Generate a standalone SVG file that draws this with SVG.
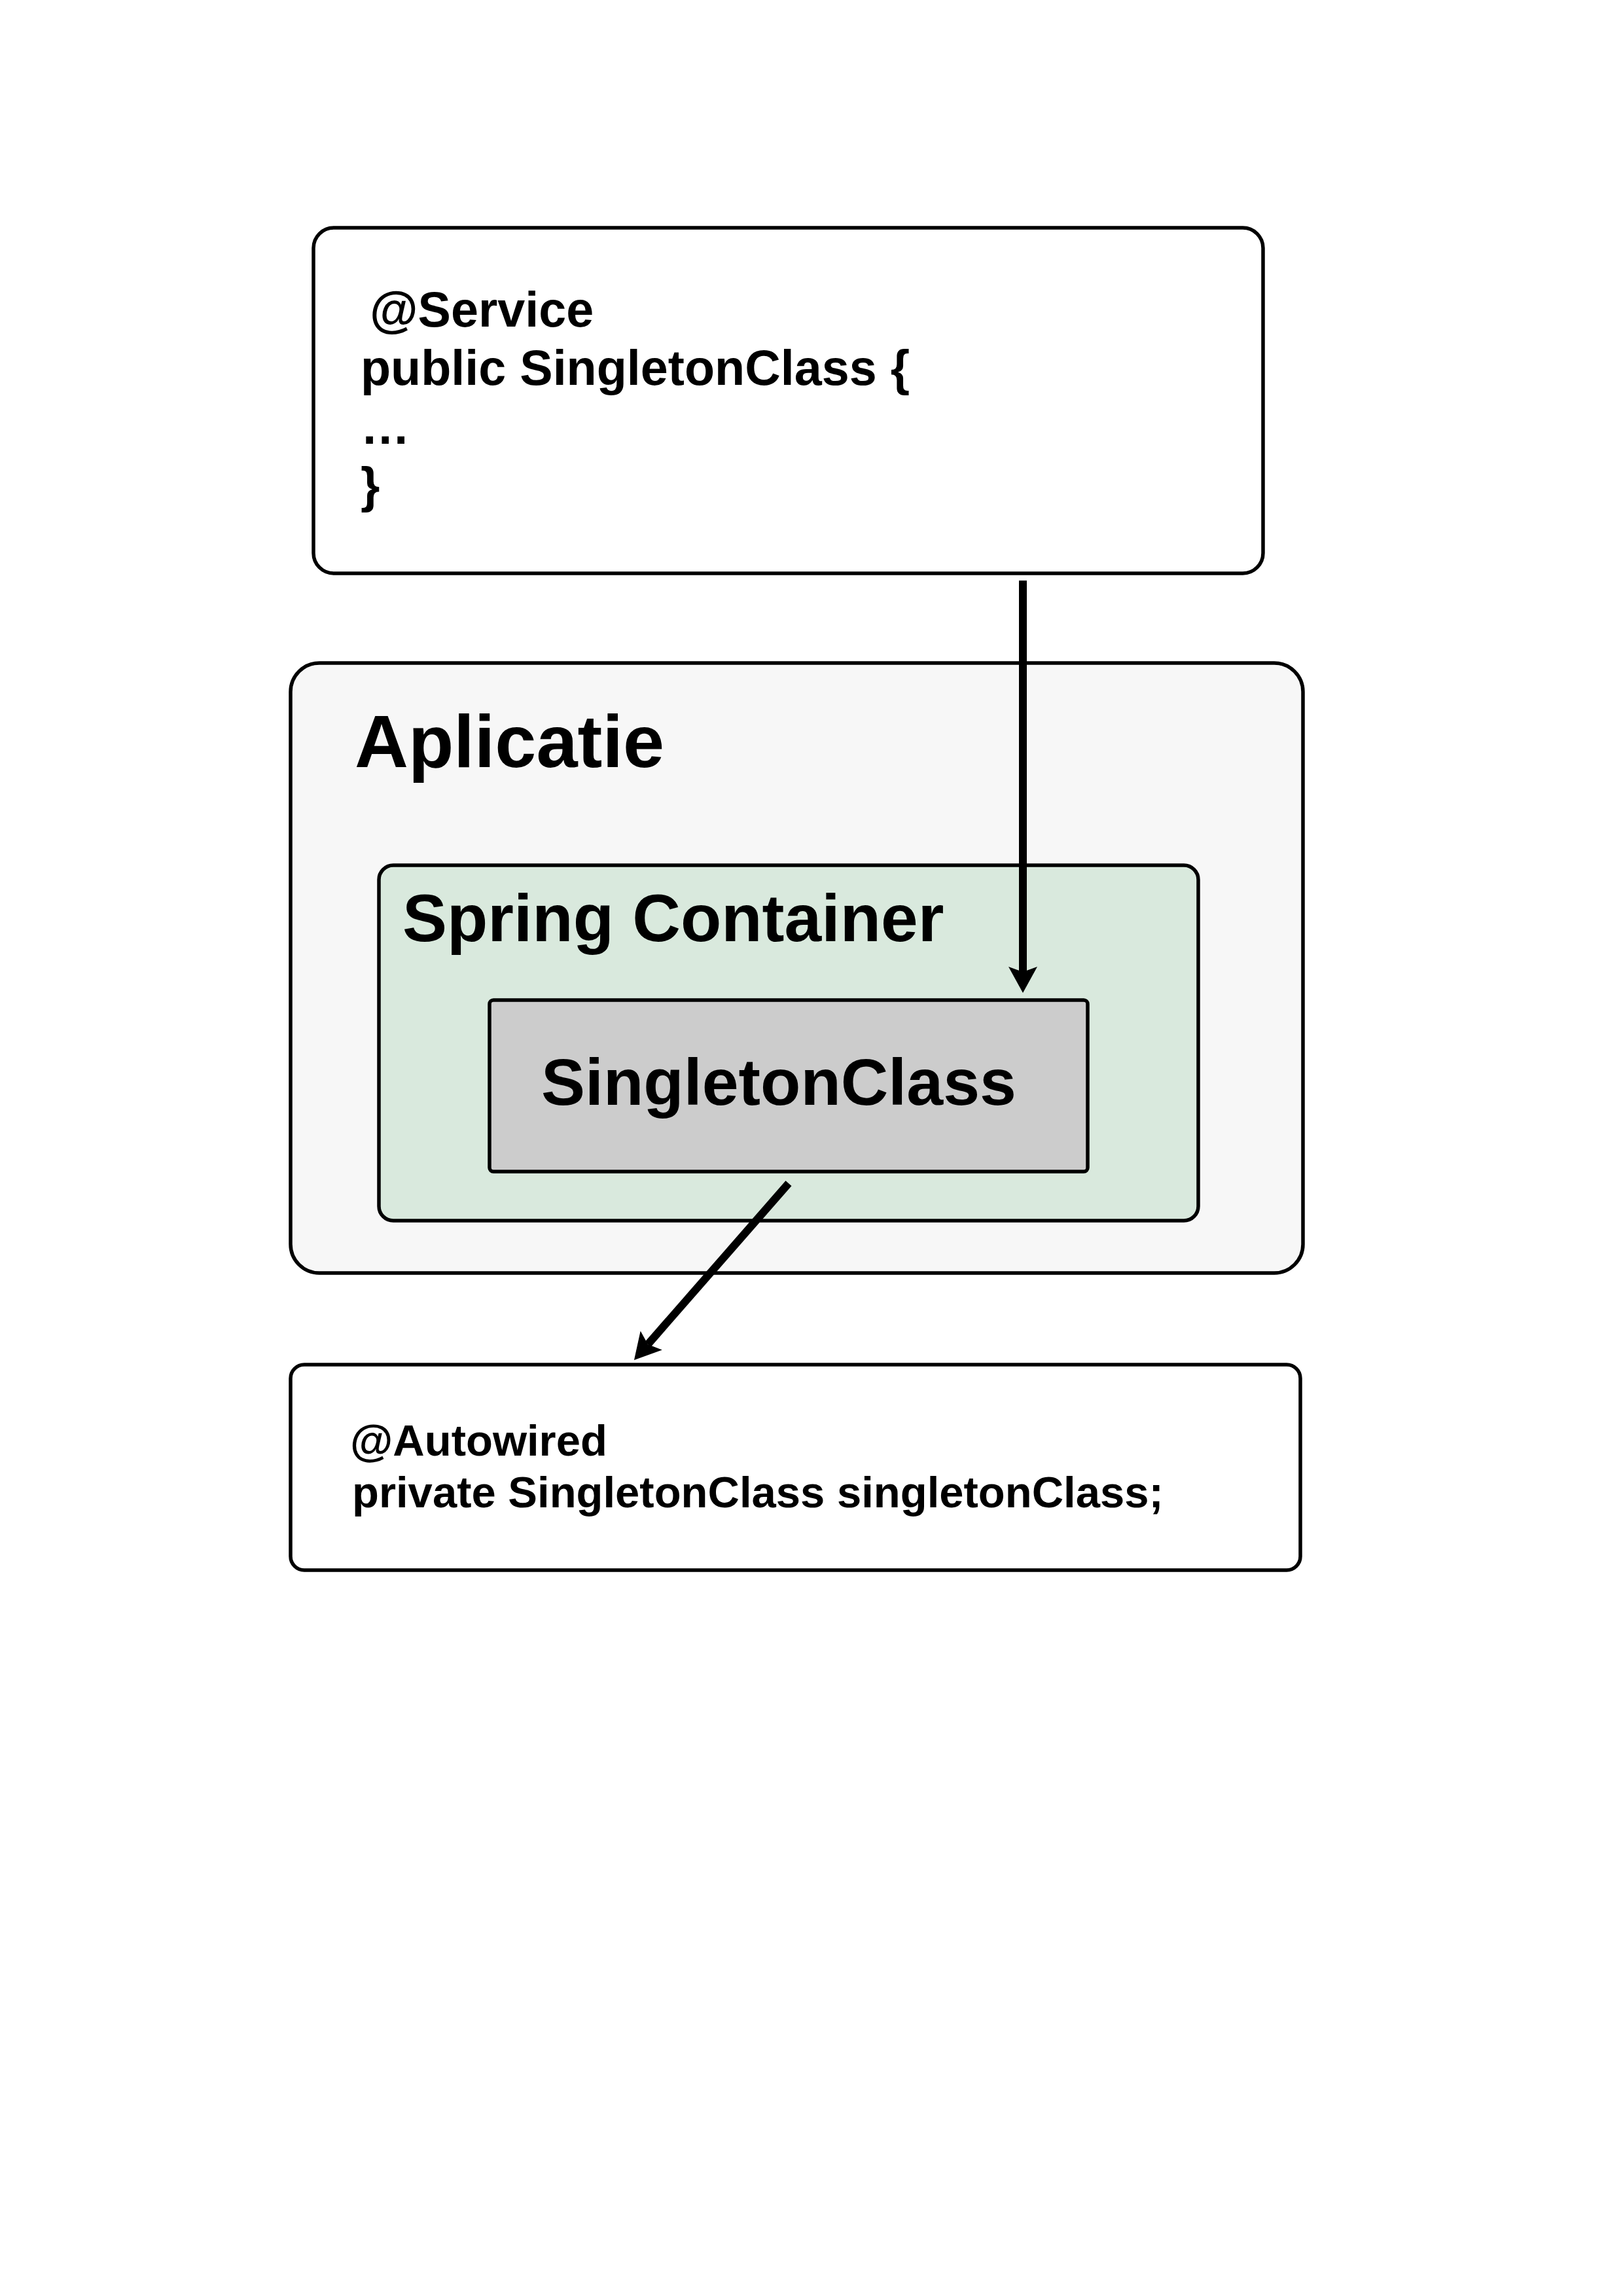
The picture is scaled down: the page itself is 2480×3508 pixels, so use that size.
<svg xmlns="http://www.w3.org/2000/svg" width="2480" height="3508" viewBox="0 0 2480 3508">
  <style>
    .box { stroke: #000; stroke-width: 5.5; }
    .txt { font-family: "Liberation Sans", Arial, sans-serif; font-weight: bold; fill: #000; }
    .conn { stroke: #000; stroke-width: 12; fill: none; }
  </style>
  <defs>
    <marker id="arrow" markerUnits="userSpaceOnUse" viewBox="0 0 40 44" markerWidth="40" markerHeight="44" refX="8" refY="22" orient="auto">
      <path d="M0,0 L40,22 L0,44 L8,22 Z" fill="#000"/>
    </marker>
  </defs>
  <rect width="2480" height="3508" fill="#ffffff"/>

  <g id="service-class">
    <rect class="box" x="479" y="348" width="1451" height="528" rx="31" ry="31" fill="#ffffff"/>
    <text class="txt" font-size="75.5" x="565" y="499">@Service</text>
    <text class="txt" font-size="75.5" x="551" y="588">public SingletonClass {</text>
    <text class="txt" font-size="75.5" x="551" y="678">…</text>
    <text class="txt" font-size="75.5" x="551" y="767">}</text>
  </g>

  <g id="aplicatie">
    <rect class="box" x="444" y="1013" width="1547" height="932" rx="44" ry="44" fill="#f7f7f7"/>
    <text class="txt" font-size="113.5" x="542" y="1172">Aplicatie</text>
  </g>

  <g id="spring-container">
    <rect class="box" x="579" y="1322" width="1252" height="543" rx="22" ry="22" fill="#d9e9dd"/>
    <text class="txt" font-size="102" x="615" y="1438">Spring Container</text>
  </g>

  <g id="singleton-class">
    <rect class="box" x="748" y="1528" width="914" height="262" rx="6" ry="6" fill="#cccccc"/>
    <text class="txt" font-size="100.5" x="827" y="1688">SingletonClass</text>
  </g>

  <g id="autowired">
    <rect class="box" x="444" y="2085" width="1543" height="314" rx="21" ry="21" fill="#ffffff"/>
    <text class="txt" font-size="67" x="535" y="2224">@Autowired</text>
    <text class="txt" font-size="67" x="538" y="2303">private SingletonClass singletonClass;</text>
  </g>

  <g id="connectors">
    <line class="conn" x1="1563" y1="887" x2="1563" y2="1485" marker-end="url(#arrow)"/>
    <line class="conn" x1="1205" y1="1808" x2="990" y2="2054" marker-end="url(#arrow)"/>
  </g>
</svg>
